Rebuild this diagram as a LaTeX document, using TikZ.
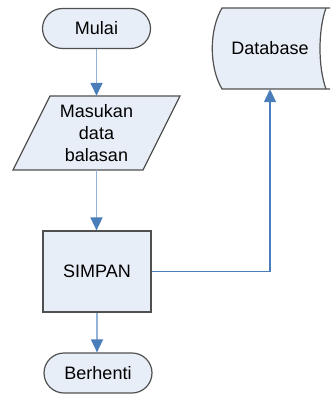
\documentclass[tikz,border=0pt]{standalone}
\usepackage{fontspec}
\setmainfont{Liberation Sans}
\usetikzlibrary{arrows.meta}
\definecolor{boxfill}{HTML}{E8EEF7}
\definecolor{boxline}{HTML}{505050}
\definecolor{flowline}{HTML}{95B3D7}
\definecolor{flowtip}{HTML}{4A7EBB}
\begin{document}
\begin{tikzpicture}[x=1pt,y=-1pt,
  font=\fontsize{18}{22}\selectfont,
  shapebox/.style={draw=boxline, fill=boxfill, line width=1.2pt},
  terminal/.style={shapebox, rectangle, rounded corners=20pt,
    minimum width=108pt, minimum height=40pt, inner sep=0pt},
  process/.style={shapebox, rectangle, minimum width=108pt,
    minimum height=81pt, inner sep=0pt},
  anchorbox/.style={draw=none, inner sep=0pt, align=center},
  flow/.style={draw=flowline, line width=1.6pt,
    -{Triangle[length=13pt,width=12pt,color=flowtip]}},
  store/.style={draw=flowtip, line width=1.3pt,
    -{Triangle[length=13pt,width=12pt,color=flowtip]}}]
  \useasboundingbox (0,0) rectangle (330,395);
  \clip (0,0) rectangle (330,395);

  % start / end terminals and process box
  \node[terminal] (mulai) at (96.5,28.5) {Mulai};
  \node[process] (simpan) at (97,271.5) {SIMPAN};
  \node[terminal] (berhenti) at (98,373) {Berhenti};

  % input parallelogram
  \draw[shapebox] (50,96) -- (180,96) -- (143,170) -- (13,170) -- cycle;
  \node[anchorbox, minimum width=90pt, minimum height=74pt] (input)
    at (96.5,133) {Masukan\\data\\balasan};

  % stored data symbol
  \fill[boxfill] (222,8) -- (326,8) .. controls (318,30) and (318,67) .. (326,89)
    -- (222,89) .. controls (209,67) and (209,30) .. (222,8) -- cycle;
  \draw[boxline, line width=1.2pt] (335,8) -- (222,8)
    .. controls (209,30) and (209,67) .. (222,89) -- (335,89);
  \draw[boxline, line width=1.2pt] (326,8) .. controls (318,30) and (318,67) .. (326,89);
  \node[anchorbox, minimum width=100pt, minimum height=81pt] (db)
    at (270,48.5) {Database};

  % connectors
  \draw[flow] (mulai.south) -- (mulai.south |- input.north);
  \draw[flow] (input.south) -- (input.south |- simpan.north);
  \draw[flow] (simpan.south) -- (simpan.south |- berhenti.north);
  \draw[store] (simpan.east) -| (db.south);
\end{tikzpicture}
\end{document}
